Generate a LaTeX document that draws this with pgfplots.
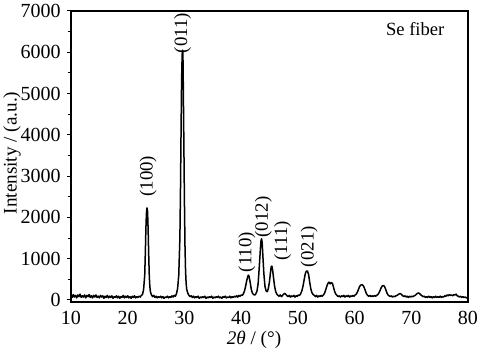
\documentclass[border=0pt]{standalone}
\usepackage{fontspec}
\setmainfont{Liberation Serif}
\usepackage{pgfplots}
\pgfplotsset{compat=1.18}
\pgfplotstableread{
x y
10.0 100
10.2 60
10.4 130
10.6 70
10.8 110
11.0 50
11.2 120
11.4 80
11.6 140
11.8 60
12.0 100
12.2 70
12.4 120
12.6 50
12.8 110
13.0 80
13.2 130
13.4 60
13.6 100
13.8 50
14.0 110
14.2 70
14.4 120
14.6 60
14.8 90
15.0 50
15.2 110
15.4 70
15.6 100
15.8 40
16.0 90
16.2 60
16.4 110
16.6 50
16.8 90
17.0 60
17.2 100
17.4 40
17.6 80
17.8 60
18.0 100
18.2 50
18.4 90
18.6 40
18.8 80
19.0 60
19.2 110
19.4 50
19.6 90
19.8 60
20.0 100
20.2 50
20.4 80
20.6 40
20.8 90
21.0 60
21.2 100
21.4 50
21.6 80
21.8 60
22.0 90
22.2 70
22.4 110
22.6 130
22.8 250
23.0 600
23.1 1100
23.2 1700
23.3 2100
23.4 2230
23.5 2150
23.6 1700
23.7 1100
23.8 600
23.9 330
24.0 200
24.2 120
24.4 80
24.6 110
24.8 60
25.0 90
25.2 50
25.4 80
25.6 60
25.8 90
26.0 50
26.2 80
26.4 40
26.6 70
26.8 60
27.0 90
27.2 50
27.4 80
27.6 60
27.8 100
28.0 70
28.2 110
28.4 90
28.6 150
28.8 280
29.0 600
29.2 1500
29.3 2600
29.4 4000
29.5 5300
29.6 5950
29.7 6050
29.75 5800
29.8 5200
29.9 3800
30.0 2400
30.1 1300
30.2 700
30.3 400
30.4 260
30.6 160
30.8 110
31.0 80
31.2 100
31.4 60
31.6 90
31.8 50
32.0 80
32.2 60
32.4 90
32.6 40
32.8 70
33.0 50
33.2 80
33.4 60
33.6 90
33.8 40
34.0 70
34.2 50
34.4 80
34.6 60
34.8 90
35.0 40
35.2 70
35.4 50
35.6 80
35.8 60
36.0 90
36.2 50
36.4 70
36.6 40
36.8 80
37.0 60
37.2 90
37.4 50
37.6 70
37.8 60
38.0 90
38.2 50
38.4 80
38.6 60
38.8 90
39.0 70
39.2 100
39.4 70
39.6 110
39.8 90
40.0 120
40.2 110
40.4 150
40.6 220
40.8 340
41.0 480
41.2 580
41.3 600
41.4 570
41.6 420
41.8 250
42.0 160
42.2 130
42.4 120
42.6 150
42.8 220
43.0 400
43.2 800
43.4 1250
43.5 1430
43.6 1480
43.7 1400
43.8 1150
44.0 650
44.2 330
44.4 220
44.6 200
44.8 280
45.0 450
45.2 700
45.3 800
45.4 820
45.5 780
45.7 550
45.9 330
46.1 200
46.3 140
46.5 110
46.7 90
46.9 120
47.1 80
47.3 110
47.5 140
47.7 160
47.9 130
48.1 100
48.3 80
48.5 110
48.7 70
48.9 100
49.1 80
49.3 110
49.5 70
49.7 100
49.9 90
50.1 120
50.3 110
50.5 150
50.7 220
50.9 330
51.1 480
51.3 630
51.5 700
51.7 700
51.9 610
52.1 420
52.3 260
52.5 170
52.7 130
52.9 110
53.1 80
53.3 110
53.5 70
53.7 100
53.9 80
54.1 110
54.3 90
54.5 120
54.7 160
54.9 240
55.1 330
55.3 400
55.5 430
55.7 390
55.9 420
56.1 400
56.3 300
56.5 200
56.7 140
56.9 110
57.1 80
57.3 100
57.5 70
57.7 100
57.9 80
58.1 110
58.3 70
58.5 100
58.7 80
58.9 110
59.1 70
59.3 100
59.5 80
59.7 110
59.9 90
60.1 120
60.3 140
60.5 190
60.7 260
60.9 330
61.1 360
61.3 370
61.5 350
61.7 300
61.9 220
62.1 150
62.3 110
62.5 90
62.7 110
62.9 80
63.1 100
63.3 80
63.5 110
63.7 90
63.9 110
64.1 130
64.3 170
64.5 230
64.7 300
64.9 340
65.1 350
65.3 320
65.5 250
65.7 170
65.9 120
66.1 100
66.3 80
66.5 100
66.7 70
66.9 90
67.1 80
67.3 100
67.5 110
67.7 130
67.9 150
68.1 150
68.3 130
68.5 100
68.7 80
68.9 100
69.1 70
69.3 90
69.5 60
69.7 90
69.9 70
70.1 90
70.3 80
70.5 100
70.7 110
70.9 140
71.1 160
71.3 170
71.5 150
71.7 120
71.9 100
72.1 80
72.3 90
72.5 60
72.7 80
72.9 60
73.1 90
73.3 60
73.5 80
73.7 50
73.9 80
74.1 60
74.3 90
74.5 60
74.7 80
74.9 60
75.1 90
75.3 60
75.5 80
75.7 70
75.9 100
76.1 90
76.3 120
76.5 100
76.7 130
76.9 110
77.1 120
77.3 100
77.5 130
77.7 120
77.9 140
78.1 100
78.3 90
78.5 70
78.7 90
78.9 60
79.1 80
79.3 60
79.5 70
79.7 50
79.9 60
}\xrd
\begin{document}
\begin{tikzpicture}
\useasboundingbox (-35.5pt,-23pt) rectangle (211pt,151pt);
\begin{axis}[
  at={(0,0)}, anchor=south west,
  scale only axis, width=198.5pt, height=145.5pt,
  xmin=10, xmax=80, ymin=-50, ymax=7000,
  xtick={10,20,...,80}, ytick={0,1000,...,7000},
  minor ytick={500,1500,...,6500},
  axis line style={line width=0.7pt},
  every tick/.style={black, line width=0.5pt},
  xtick pos=bottom, ytick pos=left,
  tick align=outside,
  major tick length=2.2pt, minor tick length=1.3pt,
  x tick style={draw=none},
  /pgf/number format/assume math mode=true,
  /pgf/number format/set thousands separator={},
  tick label style={font=\fontsize{10}{12}\selectfont},
  xticklabel style={yshift=1pt},
  yticklabel style={xshift=0.5pt},
  xlabel={{\itshape 2θ} / (°)},
  ylabel={Intensity / (a.u.)},
  label style={font=\fontsize{9.6}{11}\selectfont},
  xlabel style={at={(axis description cs:0.461,0)}, anchor=center, yshift=-19pt},
  ylabel style={at={(axis description cs:0,0.512)}, anchor=center, yshift=29.5pt},
  clip=false,
]
\addplot[black, line width=0.75pt, line join=round] table {\xrd};
\node[font=\fontsize{9.3}{11}\selectfont] at (axis description cs:0.867,0.938) {Se fiber};
\begin{scope}[every node/.style={rotate=90, font=\fontsize{9.4}{11}\selectfont, inner sep=0pt}]
\node at (axis cs:23.6,3000) {(100)};
\node at (axis cs:29.7,6465) {(011)};
\node at (axis cs:41.0,1160) {(110)};
\node at (axis cs:43.9,2010) {(012)};
\node at (axis cs:47.3,1430) {(111)};
\node at (axis cs:52.0,1290) {(021)};
\end{scope}
\end{axis}
\end{tikzpicture}
\end{document}
